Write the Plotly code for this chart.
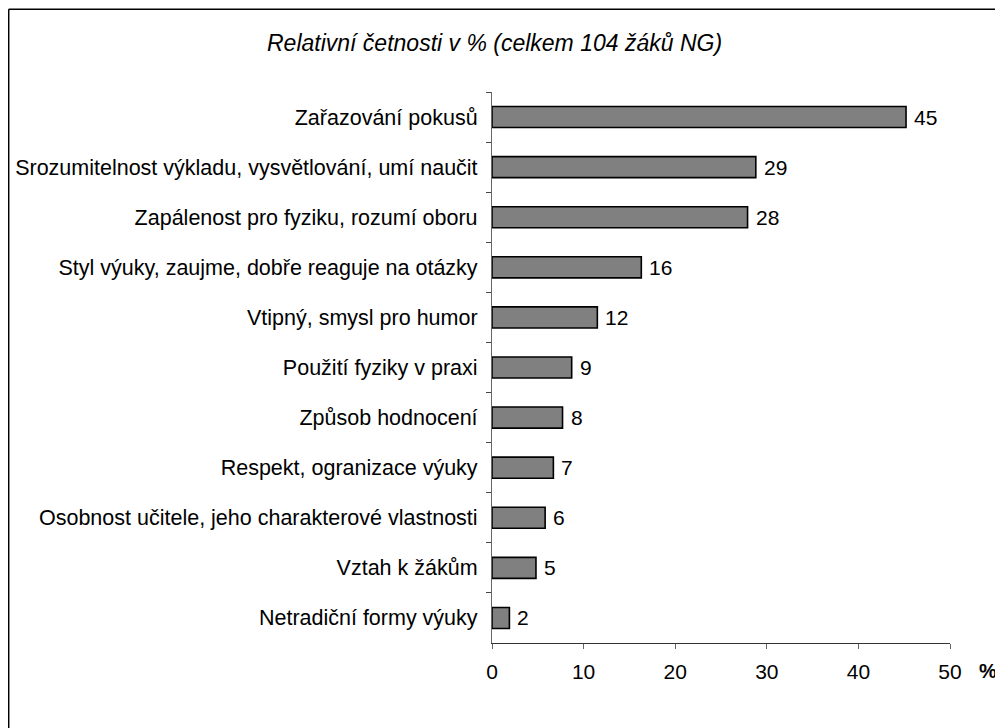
import plotly.graph_objects as go

categories = [
    "Zařazování pokusů",
    "Srozumitelnost výkladu, vysvětlování, umí naučit",
    "Zapálenost pro fyziku, rozumí oboru",
    "Styl výuky, zaujme, dobře reaguje na otázky",
    "Vtipný, smysl pro humor",
    "Použití fyziky v praxi",
    "Způsob hodnocení",
    "Respekt, ogranizace výuky",
    "Osobnost učitele, jeho charakterové vlastnosti",
    "Vztah k žákům",
    "Netradiční formy výuky",
]
values = [45.2, 28.8, 27.9, 16.3, 11.5, 8.7, 7.7, 6.7, 5.8, 4.8, 1.9]
value_labels = ["45", "29", "28", "16", "12", "9", "8", "7", "6", "5", "2"]
x_ticks = [0, 10, 20, 30, 40, 50]

OFF = 8  # page body margin
W, H = 995, 720
# plot area in page pixels: left 492, right 950, top 92, bottom 643
L = 492 - OFF
T = 92 - OFF
R = W - (950 - OFF)
B = H - (643 - OFF)
pw, ph = W - L - R, H - T - B

def px_x(p):
    return (p - OFF - L) / pw

def px_y(p):
    return (H - B - (p - OFF)) / ph

FONT = "Liberation Sans, Arial, sans-serif"

fig = go.Figure()
fig.add_trace(go.Bar(
    x=values, y=categories, orientation="h",
    marker=dict(color="#808080", line=dict(color="#000000", width=1.6)),
    hoverinfo="skip",
))

for v, c, t in zip(values, categories, value_labels):
    fig.add_annotation(x=v, y=c, text=t, xanchor="left", yanchor="middle",
                       xshift=6, showarrow=False,
                       font=dict(family=FONT, size=21, color="#000"))

fig.add_annotation(xref="paper", yref="paper", x=px_x(494), y=px_y(43),
                   text="<i>Relativní četnosti v % (celkem 104 žáků NG)</i>",
                   showarrow=False, xanchor="center", yanchor="middle",
                   font=dict(family=FONT, size=23, color="#000"))
fig.add_annotation(xref="paper", yref="paper", x=px_x(988), y=px_y(671),
                   text="<b>%</b>", showarrow=False, xanchor="center", yanchor="middle",
                   font=dict(family=FONT, size=20, color="#000"))

# chart frame (top and left edges visible)
fig.add_shape(type="line", xref="paper", yref="paper",
              x0=px_x(8.7), y0=px_y(9.2), x1=px_x(1020), y1=px_y(9.2),
              line=dict(color="#000", width=1.5))
fig.add_shape(type="line", xref="paper", yref="paper",
              x0=px_x(8.7), y0=px_y(9.2), x1=px_x(8.7), y1=px_y(760),
              line=dict(color="#000", width=1.5))

fig.update_layout(
    width=W, height=H,
    margin=dict(l=L, r=R, t=T, b=B, pad=0, autoexpand=False),
    paper_bgcolor="white", plot_bgcolor="white",
    showlegend=False, bargap=0.58,
    font=dict(family=FONT, size=21, color="#000"),
    xaxis=dict(range=[0, 50], tickvals=x_ticks, showgrid=False, zeroline=False,
               automargin=False,
               showline=True, linecolor="#333", linewidth=1.2,
               ticks="outside", ticklen=5, tickcolor="#666", tickwidth=1.2,
               tickfont=dict(family=FONT, size=21, color="#000"),
               ticklabelstandoff=5),
    yaxis=dict(autorange="reversed", type="category", showgrid=False, zeroline=False,
               automargin=False,
               showline=True, linecolor="#666", linewidth=1.2,
               ticks="outside", ticklen=5, tickcolor="#444", tickwidth=1.2,
               tickson="boundaries",
               tickfont=dict(family=FONT, size=21.5, color="#000"),
               ticklabelstandoff=9),
)

fig.write_html("out.html")
